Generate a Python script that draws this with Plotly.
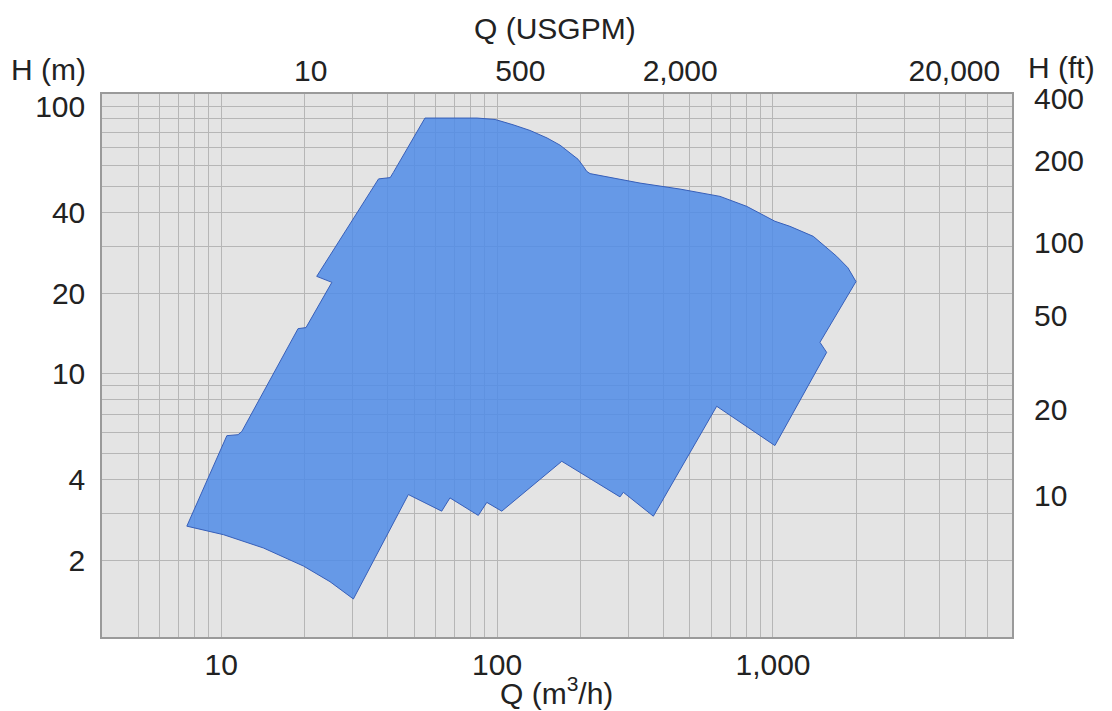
import math
import plotly.graph_objects as go

# ---- data: operating envelope (Q in m3/h, H in m), traced clockwise ----
q_m3h = [7.51, 10.49, 11.52, 11.89, 19.0, 20.3, 25.2, 22.2, 37.2, 41.0, 42.1, 54.8,
         84.6, 98.4, 114.3, 131.7, 151.8, 169.2, 183.9, 196.6, 205.5, 211.3, 217.3,
         329.7, 460.3, 642.7, 803.0, 975.0, 1016.0, 1152.0, 1400.0, 1701.0, 1869.0,
         1999.0, 1480.0, 1565.0, 1016.0, 625.2,
         368.5, 286.8, 279.0, 171.6, 104.0, 91.8, 85.5, 67.5, 63.0, 47.7, 30.15,
         24.8, 19.87, 14.23, 10.2, 7.51]
h_m = [2.68, 5.85, 5.90, 6.07, 14.73, 14.86, 21.96, 23.12, 53.6, 54.2, 56.7, 90.6,
       90.6, 89.5, 85.5, 81.4, 76.3, 71.7, 67.0, 63.5, 59.7, 57.2, 56.1,
       51.7, 49.1, 46.1, 42.3, 38.25, 37.2, 35.6, 32.65, 27.5, 24.9,
       22.1, 13.09, 12.0, 5.37, 7.54,
       2.92, 3.59, 3.45, 4.69, 3.05, 3.29, 2.94, 3.42, 3.05, 3.52, 1.43,
       1.66, 1.90, 2.22, 2.49, 2.68]

# ---- axes ----
x_range_m3h = [3.70, 7350]
y_range_m = [1.03, 111.5]
x_grid = [d * 10 ** k for k in range(0, 4) for d in range(1, 10)
          if 5 <= d * 10 ** k <= 6000]
x_labels = {10: "10", 100: "100", 1000: "1,000"}
y_grid = [d * 10 ** k for k in range(0, 3) for d in range(1, 10)
          if 2 <= d * 10 ** k <= 100]
y_labels = {2: "2", 4: "4", 10: "10", 20: "20", 40: "40", 100: "100"}

usgpm_per_m3h = 4.403
ft_per_m = 3.281
top_tick_vals = [93, 535, 2030, 20000]
top_tick_text = ["10", "500", "2,000", "20,000"]
right_tick_vals = [11.5, 24, 54, 101.4, 206, 351]
right_tick_text = ["10", "20", "50", "100", "200", "400"]

FONT = "Liberation Sans, Arial, Helvetica, sans-serif"
FS = 30
TXT = "#222222"

# page offset (browser body margin) compensation
OFF = 8
W, H = 1112 - OFF, 711 - OFF
L, R, T, B = 102 - OFF, 100, 94 - OFF, 74
pw, ph = W - L - R, H - T - B

fig = go.Figure()
fig.add_trace(go.Scatter(
    x=q_m3h, y=h_m, mode="lines", fill="toself",
    fillcolor="rgba(80,140,232,0.85)",
    line=dict(color="rgb(55,95,185)", width=1),
    hoverinfo="skip", showlegend=False,
))
# helper (invisible) so the secondary axes render
fig.add_trace(go.Scatter(
    x=[x_range_m3h[0] * usgpm_per_m3h], y=[y_range_m[0] * ft_per_m],
    xaxis="x2", yaxis="y2", mode="markers", marker=dict(opacity=0),
    hoverinfo="skip", showlegend=False,
))


def lg(r, f=1.0):
    return [math.log10(r[0] * f), math.log10(r[1] * f)]


grid_col = "#b6b6b6"
fig.update_layout(
    width=W, height=H,
    margin=dict(l=L, r=R, t=T, b=B, autoexpand=False),
    paper_bgcolor="white", plot_bgcolor="#e4e4e4",
    font=dict(family=FONT, size=FS, color=TXT),
    xaxis=dict(
        type="log", range=lg(x_range_m3h),
        tickvals=x_grid, ticktext=[x_labels.get(v, "") for v in x_grid],
        showgrid=True, gridcolor=grid_col, gridwidth=1,
        ticks="outside", ticklen=0, tickcolor="rgba(0,0,0,0)",
        showline=True, linecolor="#9a9a9a", linewidth=1.5, mirror=True,
        zeroline=False, tickfont=dict(size=FS),
    ),
    yaxis=dict(
        type="log", range=lg(y_range_m),
        tickvals=y_grid, ticktext=[y_labels.get(v, "") for v in y_grid],
        showgrid=True, gridcolor=grid_col, gridwidth=1,
        ticks="outside", ticklen=9, tickcolor="rgba(0,0,0,0)",
        showline=True, linecolor="#9a9a9a", linewidth=1.5, mirror=True,
        zeroline=False, tickfont=dict(size=FS),
    ),
    xaxis2=dict(
        type="log", overlaying="x", side="top", anchor="y",
        range=lg(x_range_m3h, usgpm_per_m3h),
        tickvals=top_tick_vals, ticktext=top_tick_text,
        showgrid=False, showline=False, zeroline=False,
        ticks="outside", ticklen=0, tickcolor="rgba(0,0,0,0)",
        tickfont=dict(size=FS),
    ),
    yaxis2=dict(
        type="log", overlaying="y", side="right", anchor="x",
        range=lg(y_range_m, ft_per_m),
        tickvals=right_tick_vals, ticktext=right_tick_text,
        showgrid=False, showline=False, zeroline=False,
        ticks="outside", ticklen=15, tickcolor="rgba(0,0,0,0)",
        tickfont=dict(size=FS),
    ),
)

# axis titles placed at window-pixel positions
titles = [("Q (USGPM)", 555, 29), ("H (m)", 48, 70), ("H (ft)", 1061, 67),
          ("Q (m<sup>3</sup>/h)", 556, 691)]
fig.update_layout(annotations=[
    dict(text=t, xref="paper", yref="paper",
         x=(px - OFF - L) / pw, y=(H - (py - OFF) - B) / ph,
         xanchor="center", yanchor="middle", showarrow=False,
         font=dict(family=FONT, size=FS, color=TXT))
    for t, px, py in titles
])

fig.write_html("out.html")
